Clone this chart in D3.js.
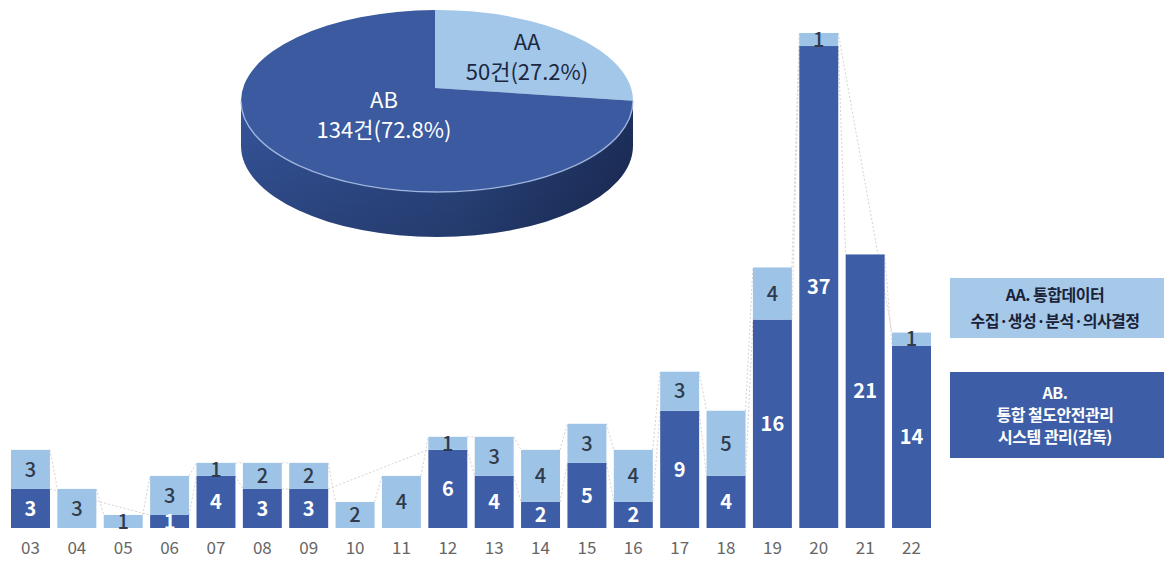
<!DOCTYPE html>
<html><head><meta charset="utf-8">
<script src="https://cdn.jsdelivr.net/npm/d3@7"></script>
<style>
body{margin:0;background:#fff}
svg{display:block;font-family:"Noto Sans CJK KR","Noto Sans",sans-serif}
</style>
</head><body>
<svg id="chart" width="1164" height="568"></svg>
<script>
// yearly case counts (20xx), stacked: AB at the bottom, AA on top
const years    = ["03","04","05","06","07","08","09","10","11","12","13","14","15","16","17","18","19","20","21","22"];
const abCounts = [3,0,0,1,4,3,3,0,0,6,4,2,5,2,9,4,16,37,21,14];
const aaCounts = [3,3,1,3,1,2,2,2,4,1,3,4,3,4,3,5,4,1,0,1];

// overall split shown in the pie
const pieKeys   = ["AA","AB"];
const pieCounts = [50,134];

const legendLines = [
  ["AA. 통합데이터","수집·생성·분석·의사결정"],
  ["AB.","통합 철도안전관리","시스템 관리(감독)"]
];

const C = {
  dark:"#3d5da6", light:"#9dc3e6",
  pieDark:"#3b5a9f", pieLight:"#a3c7e8",
  legLight:"#a6c9e9", legDark:"#3d5ea6"
};

const svg = d3.select("#chart");

// ---------- stacked bars ----------
const x = d3.scaleBand().domain(years).range([7.3, 934.7]).paddingInner(0.16).paddingOuter(0.08);
const y = d3.scaleLinear().domain([0, 38]).range([528, 33]);

const rows = years.map((yr, i) => ({yr, ab: abCounts[i], aa: aaCounts[i]}));

// series lines linking the top of each series between bars
function seriesLine(topOf, present) {
  const pts = rows.filter(present);
  const segs = [];
  for (let i = 0; i < pts.length - 1; i++) {
    const a = pts[i], b = pts[i+1];
    segs.push({x1: x(a.yr) + x.bandwidth(), y1: y(topOf(a)), x2: x(b.yr), y2: y(topOf(b))});
  }
  return segs;
}
const lineSegs = seriesLine(d => d.ab, d => d.ab > 0)
  .concat(seriesLine(d => d.ab + d.aa, d => d.aa > 0));

svg.append("g").selectAll("line").data(lineSegs).join("line")
  .attr("x1", d => d.x1).attr("y1", d => d.y1)
  .attr("x2", d => d.x2).attr("y2", d => d.y2)
  .attr("stroke", "#dcd0d0").attr("stroke-width", 1)
  .attr("stroke-dasharray", "2,2");

const bars = svg.append("g");
bars.selectAll("rect.ab").data(rows.filter(d => d.ab > 0)).join("rect")
  .attr("class","ab")
  .attr("x", d => x(d.yr)).attr("width", x.bandwidth())
  .attr("y", d => y(d.ab)).attr("height", d => y(0) - y(d.ab))
  .attr("fill", C.dark);
bars.selectAll("rect.aa").data(rows.filter(d => d.aa > 0)).join("rect")
  .attr("class","aa")
  .attr("x", d => x(d.yr)).attr("width", x.bandwidth())
  .attr("y", d => y(d.ab + d.aa)).attr("height", d => y(d.ab) - y(d.ab + d.aa))
  .attr("fill", C.light);

// value labels centred in each segment
const labels = svg.append("g").attr("text-anchor","middle").attr("font-size", 20);
labels.selectAll("text.ab").data(rows.filter(d => d.ab > 0)).join("text")
  .attr("x", d => x(d.yr) + x.bandwidth()/2)
  .attr("y", d => y(d.ab/2))
  .attr("dy","0.36em")
  .attr("fill","#fff").attr("font-weight", 700)
  .text(d => d.ab);
labels.selectAll("text.aa").data(rows.filter(d => d.aa > 0)).join("text")
  .attr("x", d => x(d.yr) + x.bandwidth()/2)
  .attr("y", d => y(d.ab + d.aa/2))
  .attr("dy","0.36em")
  .attr("fill","#2f3a4a").attr("font-weight", 500)
  .text(d => d.aa);

// category axis
const xAxis = svg.append("g").attr("transform","translate(0,536)")
  .call(d3.axisBottom(x).tickSize(0).tickPadding(6));
xAxis.select(".domain").remove();
xAxis.selectAll("text").attr("font-size", 17).attr("fill","#666")
  .attr("font-family","'Noto Sans CJK KR',sans-serif");

// ---------- 3D pie ----------
const P = {cx:437, cy:101, rx:196, ry:91, vx:435, vy:88, depth:45};
const defs = svg.append("defs");
const sideGrad = defs.append("linearGradient").attr("id","pieSide")
  .attr("x1","0").attr("x2","1").attr("y1","0").attr("y2","0");
sideGrad.append("stop").attr("offset","0").attr("stop-color","#35549a");
sideGrad.append("stop").attr("offset","0.55").attr("stop-color","#2c4885");
sideGrad.append("stop").attr("offset","1").attr("stop-color","#1d2f5c");
const sideShade = defs.append("linearGradient").attr("id","pieSideShade")
  .attr("x1","0").attr("x2","0").attr("y1","0").attr("y2","1");
sideShade.append("stop").attr("offset","0").attr("stop-color","#000").attr("stop-opacity",0);
sideShade.append("stop").attr("offset","1").attr("stop-color","#000").attr("stop-opacity",0.18);

const pie = d3.pie().sort(null).value(d => d.v);
const arcs = pie(pieKeys.map((k,i) => ({k, v: pieCounts[i]})));
const total = d3.sum(pieCounts);

// point where the ray from the vertex at angle a (clockwise from 12 o'clock) meets the rim
function rimPoint(a) {
  const px = (P.vx - P.cx)/P.rx, py = (P.vy - P.cy)/P.ry;
  const qx = Math.sin(a), qy = -Math.cos(a);
  const A = qx*qx + qy*qy, B = 2*(px*qx + py*qy), Cc = px*px + py*py - 1;
  const s = (-B + Math.sqrt(B*B - 4*A*Cc)) / (2*A);
  return [P.cx + (px + s*qx)*P.rx, P.cy + (py + s*qy)*P.ry];
}
function ellT(p) { return Math.atan2((p[1]-P.cy)/P.ry, (p[0]-P.cx)/P.rx); }

function slicePath(d) {
  const p0 = rimPoint(d.startAngle), p1 = rimPoint(d.endAngle);
  let ext = ellT(p1) - ellT(p0);
  while (ext < 0) ext += 2*Math.PI;
  const large = ext > Math.PI ? 1 : 0;
  return `M${P.vx},${P.vy}L${p0[0]},${p0[1]}A${P.rx},${P.ry} 0 ${large} 1 ${p1[0]},${p1[1]}Z`;
}

const pg = svg.append("g");
// front side wall
const L = P.cx - P.rx, R = P.cx + P.rx;
const sidePath = `M${L},${P.cy}A${P.rx},${P.ry} 0 0 0 ${R},${P.cy}L${R},${P.cy+P.depth}A${P.rx},${P.ry} 0 0 1 ${L},${P.cy+P.depth}Z`;
pg.append("path").attr("d", sidePath).attr("fill","url(#pieSide)");
pg.append("path").attr("d", sidePath).attr("fill","url(#pieSideShade)");

// top face
pg.selectAll("path.slice").data(arcs).join("path").attr("class","slice")
  .attr("d", slicePath)
  .attr("fill", d => d.data.k === "AA" ? C.pieLight : C.pieDark);

// light rim along the front edge of the top face
pg.append("path")
  .attr("d", `M${L},${P.cy}A${P.rx},${P.ry} 0 0 0 ${R},${P.cy}`)
  .attr("fill","none").attr("stroke","#a9bfe6").attr("stroke-width",1.4).attr("opacity",0.85);

const pct = d3.format(".1%");
const pieText = [
  {k:"AA", x:527, y:42, fill:"#1c2742"},
  {k:"AB", x:384, y:100, fill:"#ffffff"}
];
const ptg = svg.append("g").attr("text-anchor","middle").attr("font-size",22);
pieText.forEach(t => {
  const i = pieKeys.indexOf(t.k);
  ptg.append("text").attr("fill", t.fill)
    .attr("x", t.x).attr("y", t.y).attr("dy","0.36em").text(t.k);
  ptg.append("text").attr("fill", t.fill)
    .attr("x", t.x).attr("y", t.y + 30).attr("dy","0.36em")
    .text(`${pieCounts[i]}건(${pct(pieCounts[i]/total)})`);
});

// ---------- legend boxes ----------
const legend = [
  {lines: legendLines[0], x:950, y:278, w:214, h:60, fill:C.legLight, text:"#1a2238", gap:26},
  {lines: legendLines[1], x:950, y:372, w:214, h:86, fill:C.legDark, text:"#ffffff", gap:22}
];
const lg = svg.append("g");
legend.forEach(b => {
  lg.append("rect").attr("x",b.x).attr("y",b.y).attr("width",b.w).attr("height",b.h).attr("fill",b.fill);
  const n = b.lines.length;
  const y0 = b.y + b.h/2 - (n-1)*b.gap/2;
  lg.append("g").selectAll("text").data(b.lines).join("text")
    .attr("x", b.x + b.w/2 - 2).attr("y", (d,i) => y0 + i*b.gap).attr("dy","0.36em")
    .attr("text-anchor","middle").attr("font-size",16).attr("font-weight",700)
    .attr("letter-spacing","-0.5px")
    .attr("fill", b.text).text(d => d);
});
</script>
</body></html>
